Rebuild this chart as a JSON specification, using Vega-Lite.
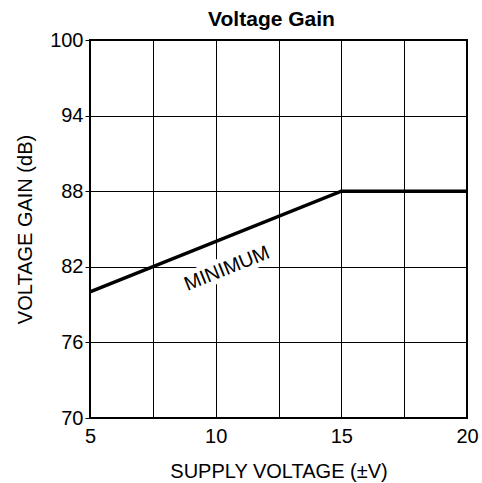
{
  "$schema": "https://vega.github.io/schema/vega-lite/v6.json",
  "width": 377,
  "height": 378,
  "autosize": {"type": "none"},
  "padding": {"left": 90, "top": 40, "right": 15, "bottom": 65},
  "background": "white",
  "config": {
    "font": "Liberation Sans",
    "view": {"stroke": "black", "strokeWidth": 2},
    "axis": {"gridColor": "black", "gridOpacity": 1, "gridWidth": 1, "domain": false}
  },
  "title": {"text": "Voltage Gain", "fontSize": 21, "fontWeight": "bold", "font": "Liberation Sans", "color": "black", "offset": 0, "dx": -7},
  "layer": [
    {
      "data": {"values": [
        {"v": 5, "gain": 80},
        {"v": 15, "gain": 88},
        {"v": 20, "gain": 88}
      ]},
      "mark": {"type": "line", "color": "black", "strokeWidth": 3.5, "clip": true},
      "encoding": {
        "x": {"field": "v", "type": "quantitative", "scale": {"domain": [5, 20], "nice": false, "zero": false},
          "axis": {"title": "SUPPLY VOLTAGE (±V)", "values": [5, 7.5, 10, 12.5, 15, 17.5, 20], "labelExpr": "datum.value % 5 == 0 ? datum.label : ''", "ticks": false, "labelFontSize": 20, "labelColor": "black", "labelPadding": 8, "labelFlush": false, "titleFontSize": 20, "titleFontWeight": "normal", "titleColor": "black", "titlePadding": 15}},
        "y": {"field": "gain", "type": "quantitative", "scale": {"domain": [70, 100], "nice": false, "zero": false},
          "axis": {"title": "VOLTAGE GAIN (dB)", "values": [70, 73, 76, 79, 82, 85, 88, 91, 94, 97, 100], "labelExpr": "datum.value % 6 == 4 ? datum.label : ''", "ticks": true, "tickColor": "black", "tickSize": 5, "labelFontSize": 20, "labelColor": "black", "labelPadding": 2, "labelFlush": false, "titleFontSize": 20, "titleFontWeight": "normal", "titleColor": "black", "titlePadding": 14}}
      }
    },
    {
      "data": {"values": [{"v": 10.45, "gain": 81.85, "label": "MINIMUM"}]},
      "mark": {"type": "text", "angle": -22, "fontSize": 20, "font": "Liberation Sans", "stroke": "white", "strokeWidth": 9, "fill": "white", "align": "center", "baseline": "middle"},
      "encoding": {
        "x": {"field": "v", "type": "quantitative"},
        "y": {"field": "gain", "type": "quantitative"},
        "text": {"field": "label"}
      }
    },
    {
      "data": {"values": [{"v": 10.45, "gain": 81.85, "label": "MINIMUM"}]},
      "mark": {"type": "text", "angle": -22, "fontSize": 20, "font": "Liberation Sans", "color": "black", "align": "center", "baseline": "middle"},
      "encoding": {
        "x": {"field": "v", "type": "quantitative"},
        "y": {"field": "gain", "type": "quantitative"},
        "text": {"field": "label"}
      }
    }
  ]
}
